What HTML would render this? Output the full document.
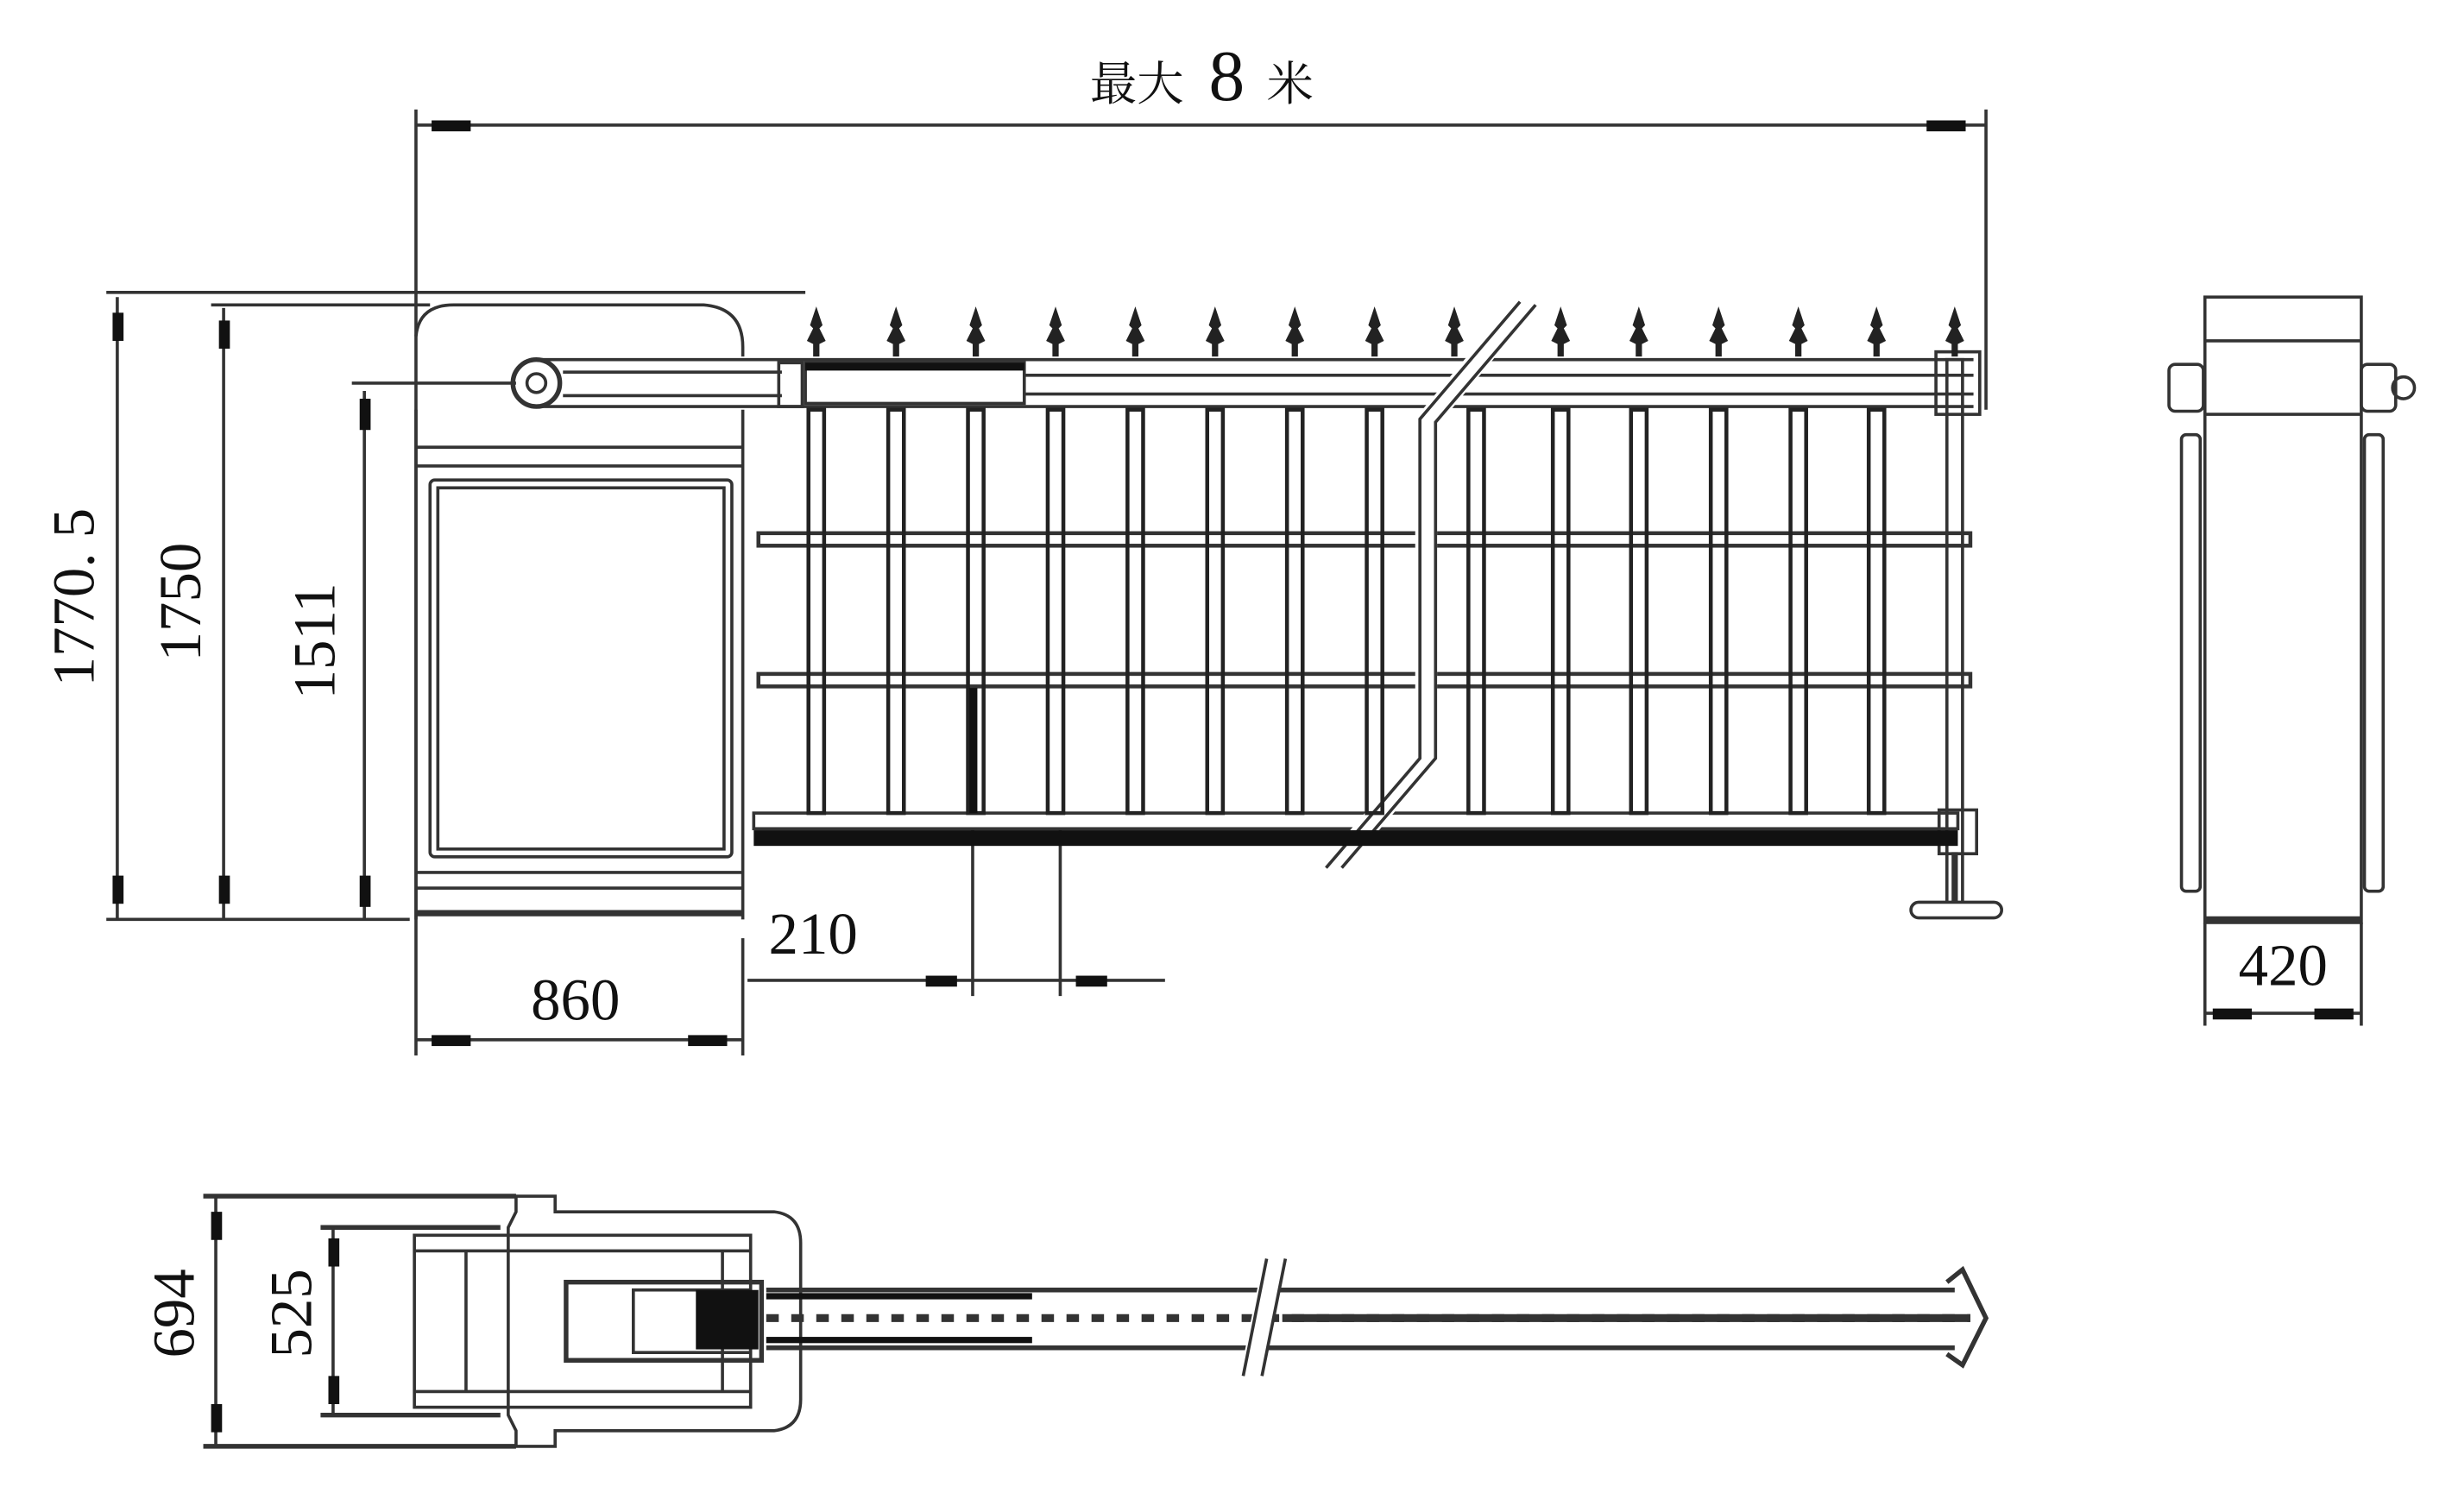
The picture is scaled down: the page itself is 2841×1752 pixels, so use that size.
<!DOCTYPE html>
<html><head><meta charset="utf-8"><style>
html,body{margin:0;padding:0;background:#fff;}
svg{display:block;}
text{font-family:"Liberation Serif","Noto Serif CJK SC",serif;fill:#111;}
</style></head><body>
<svg width="2841" height="1752" viewBox="0 0 1568 967" preserveAspectRatio="none" xmlns="http://www.w3.org/2000/svg">
<defs>
<g id="spear"><path d="M0,-32 L-4,-20 L-2,-18 L-6,-10 L-2,-8 L-2,0 L2,0 L2,-8 L6,-10 L2,-18 L4,-20 Z" fill="#222"/></g>
<g id="picket"><rect x="-5" y="262" width="10" height="258" fill="none" stroke="#222" stroke-width="2.5"/></g>
</defs>
<g stroke="#333" stroke-width="2" fill="none">
<line x1="266" y1="70" x2="266" y2="675"/>
<line x1="1270" y1="70" x2="1270" y2="262"/>
<line x1="266" y1="80" x2="1270" y2="80"/>
<line x1="68" y1="187" x2="515" y2="187"/>
<line x1="135" y1="195" x2="275" y2="195"/>
<line x1="225" y1="245" x2="330" y2="245"/>
<line x1="68" y1="588" x2="262" y2="588"/>
<line x1="75" y1="190" x2="75" y2="588"/>
<line x1="143" y1="197" x2="143" y2="588"/>
<line x1="233" y1="250" x2="233" y2="588"/>
<path d="M266,215 Q268,195 290,195 L450,195 Q475,197 475,222 L475,228"/>
<path d="M266,262 L266,588 M475,262 L475,588"/>
<line x1="266" y1="286" x2="475" y2="286"/>
<line x1="266" y1="298" x2="475" y2="298"/>
<rect x="275" y="307" width="193" height="241" rx="3"/>
<rect x="280" y="312" width="183" height="231"/>
<line x1="266" y1="558" x2="475" y2="558"/>
<line x1="266" y1="568" x2="475" y2="568"/>
<line x1="266" y1="584" x2="475" y2="584" stroke-width="4"/>
<circle cx="343" cy="245" r="15" stroke-width="3"/>
<circle cx="343" cy="245" r="6"/>
<line x1="343" y1="230" x2="1262" y2="230"/>
<line x1="343" y1="260" x2="1262" y2="260"/>
<line x1="360" y1="238" x2="500" y2="238"/>
<line x1="360" y1="253" x2="500" y2="253"/>
<rect x="498" y="232" width="15" height="28"/>
<rect x="515" y="232" width="140" height="26"/>
<line x1="655" y1="240" x2="1262" y2="240"/>
<line x1="655" y1="252" x2="1262" y2="252"/>
<rect x="485" y="341" width="775" height="8" stroke-width="2.5"/>
<rect x="485" y="431" width="775" height="8" stroke-width="2.5"/>
<rect x="482" y="520" width="770" height="10"/>
<rect x="1245" y="230" width="10" height="348"/>
<rect x="1238" y="225" width="28" height="40"/>
<rect x="1240" y="518" width="24" height="28"/>
<line x1="1250" y1="545" x2="1250" y2="582" stroke-width="4"/>
<line x1="478" y1="627" x2="745" y2="627"/>
<line x1="622" y1="530" x2="622" y2="637"/>
<line x1="678" y1="530" x2="678" y2="637"/>
<line x1="266" y1="665" x2="475" y2="665"/>
<line x1="475" y1="600" x2="475" y2="675"/>
<rect x="1410" y="190" width="100" height="400"/>
<line x1="1410" y1="218" x2="1510" y2="218"/>
<line x1="1410" y1="265" x2="1510" y2="265"/>
<rect x="1387" y="233" width="22" height="30" rx="4"/>
<rect x="1510" y="233" width="22" height="30" rx="4"/>
<circle cx="1537" cy="248" r="7"/>
<rect x="1395" y="278" width="12" height="292" rx="3"/>
<rect x="1512" y="278" width="12" height="292" rx="3"/>
<line x1="1410" y1="588" x2="1510" y2="588" stroke-width="4"/>
<line x1="1410" y1="590" x2="1410" y2="656"/>
<line x1="1510" y1="590" x2="1510" y2="656"/>
<line x1="1410" y1="648" x2="1510" y2="648"/>
<line x1="130" y1="765" x2="330" y2="765" stroke-width="3"/>
<line x1="130" y1="925" x2="330" y2="925" stroke-width="3"/>
<line x1="205" y1="785" x2="320" y2="785" stroke-width="3"/>
<line x1="205" y1="905" x2="320" y2="905" stroke-width="3"/>
<line x1="138" y1="765" x2="138" y2="925"/>
<line x1="213" y1="785" x2="213" y2="905"/>
<path d="M330,765 L355,765 L355,775 L495,775 Q512,777 512,795 L512,895 Q512,913 495,915 L355,915 L355,925 L330,925 L330,915 L325,905 L325,785 L330,775 Z"/>
<rect x="265" y="790" width="215" height="110"/>
<line x1="265" y1="800" x2="480" y2="800"/>
<line x1="265" y1="890" x2="480" y2="890"/>
<line x1="298" y1="800" x2="298" y2="890"/>
<line x1="462" y1="800" x2="462" y2="890"/>
<rect x="362" y="820" width="125" height="50" stroke-width="3"/>
<rect x="405" y="825" width="75" height="40"/>
<line x1="490" y1="825" x2="1250" y2="825" stroke-width="3"/>
<line x1="490" y1="862" x2="1250" y2="862" stroke-width="3"/>
<line x1="490" y1="843" x2="1260" y2="843" stroke-width="5" stroke-dasharray="8,8"/>
<line x1="820" y1="843" x2="1260" y2="843" stroke-width="5"/>
<path d="M1245,820 L1255,812 L1270,843 L1255,873 L1245,866" stroke-width="3"/>
</g>
<path d="M975,195 L912,270 L912,485 L852,555" stroke="#fff" stroke-width="14" fill="none"/>
<path d="M972,193 L908,268 L908,485 L848,555 M982,195 L918,270 L918,485 L858,555" stroke="#333" stroke-width="2" fill="none"/>
<path d="M815,805 L800,880" stroke="#fff" stroke-width="14"/>
<path d="M810,805 L795,880 M822,805 L807,880" stroke="#333" stroke-width="2"/>
<g>
<use href="#picket" x="522"/><use href="#picket" x="573"/><use href="#picket" x="624"/><use href="#picket" x="675"/><use href="#picket" x="726"/><use href="#picket" x="777"/><use href="#picket" x="828"/><use href="#picket" x="879"/><use href="#picket" x="944"/><use href="#picket" x="998"/><use href="#picket" x="1048"/><use href="#picket" x="1099"/><use href="#picket" x="1150"/><use href="#picket" x="1200"/>
</g>
<g transform="translate(0,228)">
<use href="#spear" x="522"/><use href="#spear" x="573"/><use href="#spear" x="624"/><use href="#spear" x="675"/><use href="#spear" x="726"/><use href="#spear" x="777"/><use href="#spear" x="828"/><use href="#spear" x="879"/><use href="#spear" x="930"/><use href="#spear" x="998"/><use href="#spear" x="1048"/><use href="#spear" x="1099"/><use href="#spear" x="1150"/><use href="#spear" x="1200"/><use href="#spear" x="1250"/>
</g>
<rect x="482" y="531" width="770" height="10" fill="#111"/>
<rect x="620" y="440" width="5" height="80" fill="#111"/>
<rect x="1222" y="577" width="58" height="10" rx="5" fill="#fff" stroke="#333" stroke-width="2"/>
<g fill="#111">
<rect x="276" y="77" width="25" height="7"/><rect x="1232" y="77" width="25" height="7"/>
<rect x="72" y="200" width="7" height="18"/><rect x="72" y="560" width="7" height="18"/>
<rect x="140" y="205" width="7" height="18"/><rect x="140" y="560" width="7" height="18"/>
<rect x="230" y="255" width="7" height="20"/><rect x="230" y="560" width="7" height="20"/>
<rect x="276" y="662" width="25" height="7"/><rect x="440" y="662" width="25" height="7"/>
<rect x="592" y="624" width="20" height="7"/><rect x="688" y="624" width="20" height="7"/>
<rect x="1415" y="645" width="25" height="7"/><rect x="1480" y="645" width="25" height="7"/>
<rect x="135" y="775" width="7" height="18"/><rect x="135" y="898" width="7" height="18"/>
<rect x="210" y="792" width="7" height="18"/><rect x="210" y="880" width="7" height="18"/>
<rect x="515" y="232" width="140" height="5"/>
<rect x="490" y="827" width="170" height="4"/><rect x="490" y="855" width="170" height="4"/>
<rect x="445" y="825" width="40" height="38"/>
</g>
<text x="697" y="64" font-size="30">最大</text>
<text x="773" y="64" font-size="46">8</text>
<text x="810" y="64" font-size="30">米</text>
<text transform="translate(60,382) rotate(-90)" text-anchor="middle" font-size="38">1770. 5</text>
<text transform="translate(128,385) rotate(-90)" text-anchor="middle" font-size="38">1750</text>
<text transform="translate(214,410) rotate(-90)" text-anchor="middle" font-size="38">1511</text>
<text x="520" y="610" text-anchor="middle" font-size="38">210</text>
<text x="368" y="652" text-anchor="middle" font-size="38">860</text>
<text x="1460" y="630" text-anchor="middle" font-size="38">420</text>
<text transform="translate(124,840) rotate(-90)" text-anchor="middle" font-size="38">694</text>
<text transform="translate(199,840) rotate(-90)" text-anchor="middle" font-size="38">525</text>
</svg>
</body></html>
